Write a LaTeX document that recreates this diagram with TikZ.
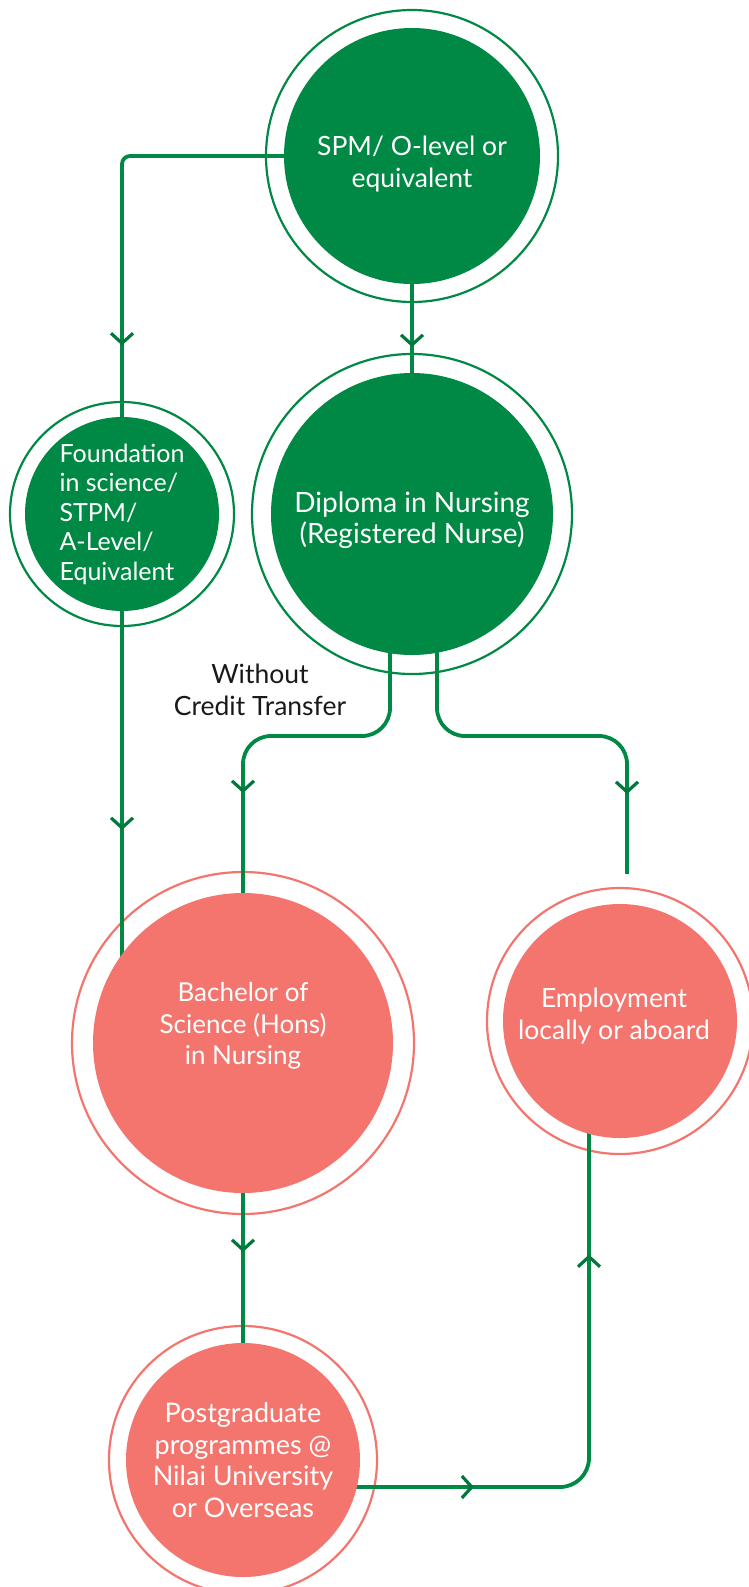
\documentclass[tikz,border=0pt]{standalone}
\usepackage{fontspec}
\setmainfont{Lato}
\usetikzlibrary{positioning,arrows.meta,decorations.markings}
\definecolor{nilaigreen}{RGB}{0,137,69}
\definecolor{arrowgreen}{RGB}{0,120,58}
\definecolor{nilaipink}{RGB}{243,117,110}
\pgfdeclarelayer{back}
\pgfsetlayers{back,main}

\begin{document}
\begin{tikzpicture}[x=1pt, y=-1pt,
    disc/.style={circle, inner sep=0pt},
    greendisc/.style={disc, fill=nilaigreen},
    pinkdisc/.style={disc, fill=nilaipink},
    disctext/.style={text=white, align=center, font=\fontsize{#1}{31.5}\selectfont},
    disctext/.default=26.5,
    ring/.style={circle, draw=#1, line width=2.2pt, inner sep=0pt},
    conn/.style={draw=nilaigreen, line width=3.8pt, rounded corners=#1},
    conn/.default=0pt,
    chev/.style={postaction={decorate, decoration={markings,
        mark=at position #1 with {\arrow{Straight Barb[length=10pt, width=22pt, line width=3.2pt, color=arrowgreen]}}}}}]
    \useasboundingbox (0,0) rectangle (749,1587);

    \node [greendisc, minimum size=256pt] (spm) at (412,156) {};
    \node [greendisc, minimum size=282pt] (dip) at (412,514) {};
    \node [greendisc, minimum size=194pt] (fnd) at (122,514) {};
    \node [pinkdisc, minimum size=300pt] (bsc) at (243,1043) {};
    \node [pinkdisc, minimum size=234pt] (emp) at (620,1021) {};
    \node [pinkdisc, minimum size=234pt] (pg) at (243,1460) {};

    \node [disctext] (spmtext) at ([yshift=-8pt]spm.center) {SPM/ O-level or\\equivalent};
    \node [disctext=28] (diptext) at ([yshift=-6pt]dip.center) {Diploma in Nursing\\(Registered Nurse)};
    \node [disctext=25, align=left, font=\fontsize{25}{29.5}\selectfont] (fndtext) at (fnd.center)
        {Foundation\\in science/\\STPM/\\A-Level/\\Equivalent};
    \node [disctext=26] (bsctext) at ([yshift=17pt]bsc.center) {Bachelor of\\Science (Hons)\\in Nursing};
    \node [disctext=26.5] (emptext) at ([shift={(-6pt,5pt)}]emp.center) {Employment\\locally or aboard};
    \node [disctext=27] (pgtext) at (pg.center) {Postgraduate\\programmes @\\Nilai University\\or Overseas};
    \node [disctext=26.5, text=black!90] (wct) at (260,690) {Without\\Credit Transfer};

    \begin{pgfonlayer}{back}
        \foreach \nd/\sz/\col in {spm/292/nilaigreen, dip/320/nilaigreen, fnd/224/nilaigreen,
                                  bsc/342/nilaipink, emp/266/nilaipink, pg/268/nilaipink}
            \node [ring=\col, minimum size=\sz pt] at (\nd.center) {};

        \path [conn=8pt, chev=476pt] (spm.center) -| (fnd.center);
        \path [conn, chev=191pt] (spm.center) -- (dip.center);
        \path [conn, chev=316pt] (fnd.center) -- (fnd.center |- bsc.center);
        \path [conn=28pt, chev=402pt] ([xshift=-22pt]dip.center) -- ++(0,222) -| (bsc.center);
        \path [conn=28pt, chev=446pt] ([xshift=25pt]dip.center) -- ++(0,222) -| ([shift={(7pt,30pt)}]emp.north);
        \path [conn, chev=209pt] (bsc.center) -- (pg.center);
        \path [conn=29pt, chev=231pt, chev=566pt] ([yshift=-27pt]pg.center) -| ([xshift=-31pt]emp.center);
    \end{pgfonlayer}
\end{tikzpicture}
\end{document}
